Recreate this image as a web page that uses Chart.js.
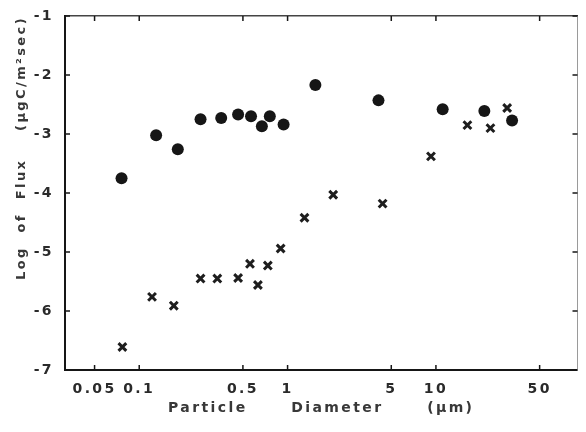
<!DOCTYPE html>
<html>
<head>
<meta charset="utf-8">
<script src="https://cdn.jsdelivr.net/npm/chart.js@4.4.1/dist/chart.umd.min.js"></script>
<style>
  html, body { margin: 0; padding: 0; background: #fff; }
  #wrap { width: 586px; height: 432px; }
</style>
</head>
<body>
<div id="wrap"><canvas id="c" width="586" height="432"></canvas></div>
<script>
  // filled circles
  const circleDiam = [0.076, 0.130, 0.182, 0.259, 0.357, 0.464, 0.567, 0.671, 0.759, 0.94, 1.54, 4.1, 11.1, 21.2, 32.6];
  const circleFlux = [-3.75, -3.02, -3.26, -2.75, -2.73, -2.67, -2.70, -2.87, -2.70, -2.84, -2.17, -2.43, -2.58, -2.61, -2.77];
  // crosses
  const crossDiam = [0.077, 0.122, 0.171, 0.259, 0.336, 0.464, 0.558, 0.631, 0.736, 0.898, 1.30, 2.03, 4.37, 9.26, 16.3, 23.3, 30.2];
  const crossFlux = [-6.61, -5.76, -5.91, -5.45, -5.45, -5.44, -5.20, -5.56, -5.23, -4.94, -4.42, -4.03, -4.18, -3.38, -2.85, -2.90, -2.56];

  const xTickVals = [0.05, 0.1, 0.5, 1, 5, 10, 50];
  const yTickVals = [-1, -2, -3, -4, -5, -6, -7];

  const ink = "#161616";
  const textColor = "#2a2a2a";
  const fontFam = "'DejaVu Sans', 'Liberation Sans', sans-serif";

  function toPoints(xs, ys) {
    return xs.map(function (x, i) { return { x: x, y: ys[i] }; });
  }

  // spaced-out lettering like the printed figure
  const spacingPlugin = {
    id: "spacing",
    beforeDraw: function (chart) {
      chart.ctx.letterSpacing = "2.4px";
    }
  };

  // small inward tick marks on all four sides
  const innerTicks = {
    id: "innerTicks",
    afterDraw: function (chart) {
      const ctx = chart.ctx;
      const a = chart.chartArea;
      const xs = chart.scales.x;
      const ys = chart.scales.y;
      ctx.save();
      ctx.strokeStyle = ink;
      ctx.lineWidth = 1.5;
      ctx.beginPath();
      xTickVals.forEach(function (v) {
        const px = xs.getPixelForValue(v);
        ctx.moveTo(px, a.bottom);
        ctx.lineTo(px, a.bottom - 5);
        ctx.moveTo(px, a.top);
        ctx.lineTo(px, a.top + 5);
      });
      yTickVals.forEach(function (v) {
        const py = ys.getPixelForValue(v);
        ctx.moveTo(a.left, py);
        ctx.lineTo(a.left + 5, py);
        ctx.moveTo(a.right, py);
        ctx.lineTo(a.right - 5, py);
      });
      ctx.stroke();
      ctx.restore();
    }
  };

  new Chart(document.getElementById("c"), {
    type: "scatter",
    data: {
      datasets: [
        {
          label: "circles",
          data: toPoints(circleDiam, circleFlux),
          pointStyle: "circle",
          pointRadius: 6,
          backgroundColor: ink,
          borderColor: ink,
          borderWidth: 0
        },
        {
          label: "crosses",
          data: toPoints(crossDiam, crossFlux),
          pointStyle: "crossRot",
          pointRadius: 5.5,
          borderWidth: 3,
          borderColor: "#1e1e1e",
          backgroundColor: "#1e1e1e"
        }
      ]
    },
    options: {
      responsive: false,
      animation: false,
      devicePixelRatio: 1,
      layout: { padding: { top: 16, right: 2, left: 0, bottom: 0 } },
      plugins: { legend: { display: false }, tooltip: { enabled: false } },
      scales: {
        x: {
          type: "logarithmic",
          position: "bottom",
          min: 0.0316,
          max: 90,
          grid: { display: false },
          border: { display: true, color: ink, width: 2 },
          afterBuildTicks: function (s) { s.ticks = xTickVals.map(function (v) { return { value: v }; }); },
          afterFit: function (s) { s.height = 62; },
          ticks: {
            autoSkip: false,
            maxRotation: 0,
            padding: 3,
            color: textColor,
            font: { family: fontFam, size: 14, weight: "bold" },
            callback: function (v) { return String(v); }
          },
          title: {
            display: true,
            text: "Particle      Diameter      (μm)",
            color: "#383838",
            font: { family: fontFam, size: 14, weight: "bold" },
            padding: { top: 0, bottom: 15 }
          }
        },
        x2: {
          type: "logarithmic",
          position: "top",
          min: 0.0316,
          max: 90,
          grid: { display: false },
          ticks: { display: false },
          border: { display: true, color: "#444", width: 1.5 },
          afterFit: function (s) { s.height = 0; }
        },
        y: {
          type: "linear",
          position: "left",
          min: -7,
          max: -1,
          grid: { display: false },
          border: { display: true, color: ink, width: 2 },
          afterFit: function (s) { s.width = 65; },
          ticks: {
            stepSize: 1,
            padding: 3,
            color: textColor,
            font: { family: fontFam, size: 14, weight: "bold" }
          },
          title: {
            display: true,
            text: "Log  of  Flux    (μgC/m²sec)",
            align: "end",
            color: "#383838",
            font: { family: fontFam, size: 13, weight: "bold" },
            padding: { top: 14, bottom: 0 }
          }
        },
        y2: {
          type: "linear",
          position: "right",
          min: -7,
          max: -1,
          grid: { display: false },
          ticks: { display: false },
          border: { display: true, color: "#9a9a9a", width: 1 },
          afterFit: function (s) { s.width = 0; }
        }
      }
    },
    plugins: [spacingPlugin, innerTicks]
  });
</script>
</body>
</html>
